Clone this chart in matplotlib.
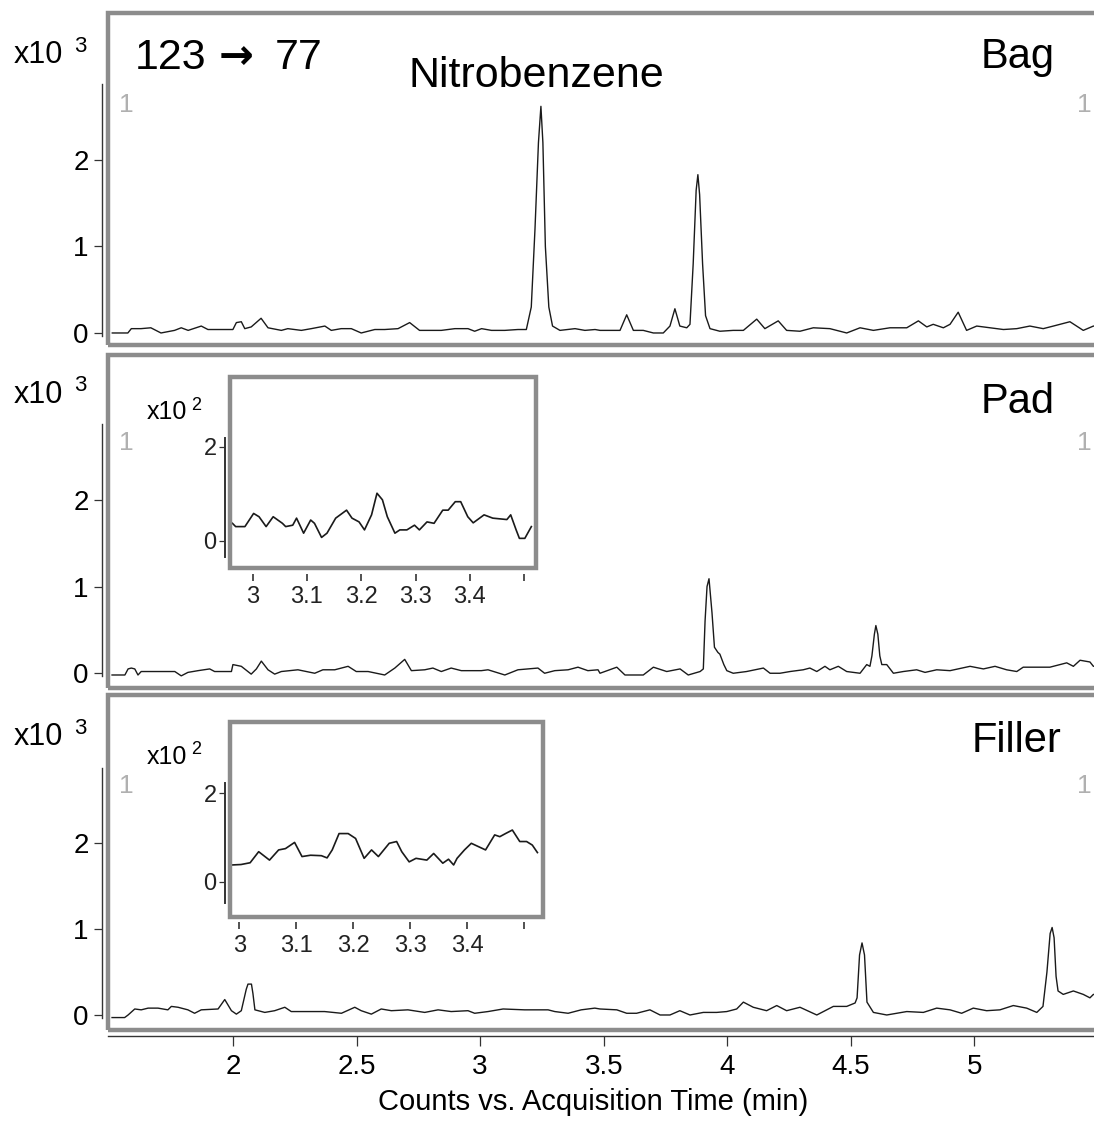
import matplotlib.pyplot as plt

plt.rcParams['font.family'] = ['Liberation Sans', 'DejaVu Sans']

# ---- data: counts (x10^3) vs acquisition time (min) ----
bag_t = [1.512, 1.575, 1.589, 1.628, 1.668, 1.709, 1.764, 1.791, 1.819, 1.872,
         1.899, 1.953, 2.0, 2.014, 2.034, 2.048, 2.074, 2.114, 2.142, 2.196,
         2.222, 2.277, 2.317, 2.372, 2.398, 2.438, 2.479, 2.519, 2.574, 2.614,
         2.668, 2.715, 2.755, 2.843, 2.898, 2.951, 2.978, 3.006, 3.046, 3.1,
         3.153, 3.187, 3.207, 3.222, 3.236, 3.246, 3.254, 3.264, 3.278, 3.293,
         3.323, 3.384, 3.424, 3.465, 3.485, 3.566, 3.593, 3.62, 3.66, 3.701,
         3.741, 3.768, 3.788, 3.808, 3.836, 3.849, 3.862, 3.874, 3.881, 3.888,
         3.9, 3.912, 3.93, 3.97, 4.024, 4.065, 4.119, 4.152, 4.206, 4.24,
         4.294, 4.348, 4.415, 4.483, 4.537, 4.591, 4.658, 4.726, 4.773, 4.807,
         4.833, 4.874, 4.901, 4.934, 4.968, 5.009, 5.063, 5.117, 5.171, 5.224,
         5.278, 5.319, 5.386, 5.44, 5.481, 5.59]
bag_y = [0.0, 0.0, 0.05, 0.05, 0.06, 0.0, 0.03, 0.06, 0.03, 0.08,
         0.04, 0.04, 0.04, 0.12, 0.13, 0.05, 0.07, 0.17, 0.06, 0.03,
         0.05, 0.03, 0.05, 0.08, 0.03, 0.05, 0.05, 0.0, 0.04, 0.04,
         0.05, 0.12, 0.03, 0.03, 0.05, 0.05, 0.02, 0.05, 0.03, 0.03,
         0.04, 0.04, 0.3, 1.2, 2.2, 2.62, 2.2, 1.0, 0.3, 0.08,
         0.03, 0.05, 0.03, 0.04, 0.03, 0.03, 0.21, 0.03, 0.03, 0.0,
         0.0, 0.08, 0.28, 0.08, 0.06, 0.1, 0.8, 1.65, 1.83, 1.6,
         0.8, 0.2, 0.05, 0.02, 0.03, 0.03, 0.16, 0.05, 0.14, 0.03,
         0.02, 0.06, 0.05, 0.0, 0.06, 0.03, 0.06, 0.06, 0.14, 0.07,
         0.1, 0.06, 0.1, 0.24, 0.03, 0.08, 0.06, 0.04, 0.05, 0.08,
         0.05, 0.08, 0.13, 0.03, 0.08, 0.05]

pad_t = [1.511, 1.563, 1.576, 1.589, 1.603, 1.616, 1.629, 1.765, 1.791, 1.818,
         1.859, 1.906, 1.926, 1.994, 2.0, 2.034, 2.074, 2.095, 2.115, 2.142,
         2.169, 2.196, 2.263, 2.331, 2.364, 2.412, 2.466, 2.499, 2.547, 2.614,
         2.655, 2.695, 2.722, 2.776, 2.809, 2.843, 2.883, 2.924, 3.005, 3.032,
         3.1, 3.153, 3.234, 3.261, 3.302, 3.356, 3.396, 3.436, 3.477, 3.485,
         3.553, 3.586, 3.66, 3.701, 3.755, 3.809, 3.842, 3.89, 3.903, 3.91,
         3.918, 3.926, 3.938, 3.948, 3.962, 3.97, 3.986, 3.998, 4.024, 4.078,
         4.146, 4.173, 4.213, 4.254, 4.307, 4.334, 4.362, 4.395, 4.415, 4.449,
         4.483, 4.537, 4.564, 4.577, 4.585, 4.595, 4.601, 4.609, 4.617, 4.625,
         4.645, 4.672, 4.712, 4.766, 4.8, 4.847, 4.901, 4.982, 5.036, 5.083,
         5.13, 5.171, 5.197, 5.305, 5.373, 5.4, 5.427, 5.467, 5.481, 5.59]
pad_y = [-0.02, -0.02, 0.05, 0.06, 0.05, -0.02, 0.02, 0.02, -0.03, 0.01,
         0.03, 0.05, 0.02, 0.02, 0.1, 0.08, -0.01, 0.05, 0.14, 0.04,
         -0.01, 0.02, 0.04, 0.0, 0.04, 0.04, 0.08, 0.02, 0.02, -0.02,
         0.06, 0.16, 0.03, 0.04, 0.06, 0.02, 0.06, 0.03, 0.03, 0.04,
         -0.02, 0.04, 0.06, 0.0, 0.03, 0.04, 0.07, 0.03, 0.04, 0.0,
         0.07, -0.02, -0.02, 0.07, 0.02, 0.05, -0.02, 0.02, 0.05, 0.6,
         1.0, 1.09, 0.7, 0.3, 0.24, 0.22, 0.1, 0.03, 0.0, 0.02,
         0.06, 0.0, 0.0, 0.02, 0.04, 0.06, 0.02, 0.08, 0.04, 0.08,
         0.02, 0.0, 0.1, 0.08, 0.2, 0.45, 0.55, 0.45, 0.2, 0.1,
         0.1, 0.0, 0.02, 0.04, 0.01, 0.04, 0.03, 0.08, 0.05, 0.08,
         0.04, 0.02, 0.07, 0.07, 0.12, 0.08, 0.15, 0.13, 0.08, 0.1]

filler_t = [1.511, 1.562, 1.576, 1.603, 1.629, 1.657, 1.697, 1.737, 1.751, 1.778,
            1.818, 1.845, 1.872, 1.94, 1.967, 1.994, 2.014, 2.034, 2.054, 2.061,
            2.075, 2.081, 2.089, 2.129, 2.169, 2.21, 2.236, 2.331, 2.371, 2.439,
            2.493, 2.519, 2.56, 2.6, 2.641, 2.708, 2.776, 2.83, 2.883, 2.951,
            2.978, 3.032, 3.093, 3.18, 3.275, 3.302, 3.356, 3.409, 3.464, 3.485,
            3.553, 3.593, 3.633, 3.687, 3.728, 3.768, 3.808, 3.849, 3.903, 3.957,
            3.998, 4.038, 4.065, 4.105, 4.159, 4.2, 4.24, 4.294, 4.362, 4.429,
            4.483, 4.517, 4.525, 4.535, 4.545, 4.555, 4.565, 4.591, 4.645, 4.726,
            4.793, 4.847, 4.901, 4.948, 4.995, 5.049, 5.103, 5.157, 5.211, 5.252,
            5.277, 5.293, 5.306, 5.314, 5.322, 5.33, 5.338, 5.359, 5.4, 5.44,
            5.467, 5.481, 5.59]
filler_y = [-0.03, -0.03, 0.0, 0.07, 0.06, 0.08, 0.08, 0.06, 0.1, 0.09,
            0.06, 0.02, 0.06, 0.07, 0.18, 0.05, 0.01, 0.05, 0.3, 0.36,
            0.36, 0.25, 0.06, 0.03, 0.05, 0.09, 0.04, 0.04, 0.04, 0.02,
            0.09, 0.05, 0.01, 0.07, 0.05, 0.06, 0.03, 0.06, 0.04, 0.05,
            0.02, 0.04, 0.07, 0.06, 0.06, 0.04, 0.02, 0.06, 0.08, 0.07,
            0.06, 0.02, 0.02, 0.06, 0.0, 0.0, 0.05, 0.0, 0.03, 0.03,
            0.04, 0.07, 0.15, 0.09, 0.05, 0.11, 0.05, 0.09, 0.0, 0.1,
            0.1, 0.14, 0.2, 0.7, 0.84, 0.7, 0.15, 0.03, 0.0, 0.04,
            0.03, 0.08, 0.06, 0.02, 0.08, 0.05, 0.06, 0.11, 0.08, 0.03,
            0.1, 0.5, 0.95, 1.02, 0.9, 0.45, 0.28, 0.24, 0.28, 0.24,
            0.2, 0.24, 0.22]

# zoomed insets: counts (x10^2) vs time (min)
pad_in_t = [2.963, 2.969, 2.986, 3.002, 3.012, 3.025, 3.038, 3.055, 3.061, 3.074,
            3.081, 3.094, 3.107, 3.114, 3.127, 3.137, 3.153, 3.173, 3.183, 3.196,
            3.206, 3.219, 3.229, 3.239, 3.248, 3.262, 3.271, 3.284, 3.298, 3.307,
            3.321, 3.334, 3.35, 3.36, 3.373, 3.383, 3.396, 3.406, 3.426, 3.442,
            3.468, 3.475, 3.485, 3.491, 3.501, 3.513]
pad_in_y = [0.37, 0.30, 0.30, 0.58, 0.51, 0.30, 0.51, 0.37, 0.30, 0.33,
            0.48, 0.16, 0.44, 0.37, 0.07, 0.16, 0.48, 0.65, 0.48, 0.40,
            0.23, 0.55, 1.01, 0.87, 0.51, 0.16, 0.23, 0.23, 0.33, 0.23,
            0.40, 0.37, 0.65, 0.65, 0.83, 0.83, 0.51, 0.38, 0.55, 0.48,
            0.45, 0.55, 0.23, 0.05, 0.05, 0.30]

filler_in_t = [2.987, 3.003, 3.019, 3.034, 3.053, 3.069, 3.081, 3.097, 3.11, 3.125,
               3.144, 3.154, 3.163, 3.175, 3.191, 3.204, 3.219, 3.232, 3.244, 3.263,
               3.276, 3.285, 3.298, 3.31, 3.329, 3.341, 3.357, 3.367, 3.376, 3.382,
               3.395, 3.407, 3.432, 3.448, 3.457, 3.467, 3.479, 3.492, 3.504, 3.514,
               3.523]
filler_in_y = [0.38, 0.39, 0.43, 0.68, 0.49, 0.72, 0.75, 0.89, 0.57, 0.60,
               0.59, 0.54, 0.72, 1.09, 1.09, 0.98, 0.53, 0.72, 0.57, 0.87,
               0.91, 0.68, 0.45, 0.53, 0.49, 0.64, 0.42, 0.51, 0.38, 0.53,
               0.72, 0.87, 0.72, 1.06, 1.02, 1.09, 1.17, 0.91, 0.91, 0.83,
               0.66]

panel_names = ['Bag', 'Pad', 'Filler']
main_ticks = [0, 1, 2]
x_ticks = [2, 2.5, 3, 3.5, 4, 4.5, 5]
x_ticklabels = ['2', '2.5', '3', '3.5', '4', '4.5', '5']
inset_ticks = [3, 3.1, 3.2, 3.3, 3.4, 3.5]
inset_ticklabels = ['3', '3.1', '3.2', '3.3', '3.4', '']

W, H = 1094, 1123
fig = plt.figure(figsize=(W / 100, H / 100), dpi=100)
GRAY = '#8c8c8c'
DARK = '#333333'


def fx(px):
    return px / W


def fy(py):
    return 1 - py / H


def frame(ax, lw=3.2):
    ax.add_patch(plt.Rectangle((0, 0), 1, 1, transform=ax.transAxes, fill=False,
                               edgecolor=GRAY, lw=lw, clip_on=False, zorder=5))
    for s in ax.spines.values():
        s.set_visible(False)


# panel geometry: top/bottom of box in px and y limits
boxes = [(13, 345, -0.139, 3.699), (355, 688, -0.17, 3.67), (695, 1030, -0.175, 3.73)]
traces = [(bag_t, bag_y), (pad_t, pad_y), (filler_t, filler_y)]
label_px = [(981, 68), (981, 413), (972, 752)]
x10_py = [55, 395, 737]
one_py = [105, 443, 786]

for i in range(3):
    top, bot, y0, y1 = boxes[i]
    ax = fig.add_axes([fx(108), fy(bot), fx(1120) - fx(108), (bot - top) / H])
    ax.plot(traces[i][0], traces[i][1], color='#1a1a1a', lw=1.0)
    ax.set_xlim(1.4947, 5.5886)
    ax.set_ylim(y0, y1)
    frame(ax)
    ax.spines['left'].set_visible(True)
    ax.spines['left'].set_position(('outward', 4))
    ax.spines['left'].set_bounds(-0.03, 2.88)
    ax.spines['left'].set_color(DARK)
    ax.spines['left'].set_linewidth(1.0)
    ax.set_yticks(main_ticks)
    ax.tick_params(axis='y', direction='out', length=6, width=0.9, color=DARK,
                   labelsize=20, pad=4)
    if i == 2:
        ax.spines['bottom'].set_visible(True)
        ax.spines['bottom'].set_position(('outward', 4))
        ax.spines['bottom'].set_color(DARK)
        ax.spines['bottom'].set_linewidth(1.0)
        ax.set_xticks(x_ticks, labels=x_ticklabels)
        ax.tick_params(axis='x', direction='out', length=7, width=0.9, color=DARK,
                       labelsize=20, pad=6)
    else:
        ax.set_xticks([])

    fig.text(fx(label_px[i][0]), fy(label_px[i][1]), panel_names[i], fontsize=30,
             ha='left', va='baseline')
    fig.text(fx(14), fy(x10_py[i]), 'x10', fontsize=22, ha='left', va='center')
    fig.text(fx(74), fy(x10_py[i] - 9), '3', fontsize=16, ha='left', va='center')
    fig.text(fx(119), fy(one_py[i]), '1', fontsize=19, color='#b0b0b0',
             ha='left', va='center')
    fig.text(fx(1077), fy(one_py[i]), '1', fontsize=19, color='#b0b0b0',
             ha='left', va='center')

fig.text(fx(135), fy(69), '123', fontsize=31, ha='left', va='baseline')
fig.text(fx(219), fy(69), '\u2192', fontsize=30, ha='left', va='baseline',
         family=['DejaVu Sans'], fontweight='bold')
fig.text(fx(275), fy(69), '77', fontsize=31, ha='left', va='baseline')
fig.text(fx(409), fy(87), 'Nitrobenzene', fontsize=31, ha='left', va='baseline')
fig.text(fx(593), fy(1102), 'Counts vs. Acquisition Time (min)', fontsize=21,
         ha='center', va='center')

# insets: box px (left, right, top, bottom), xlim, ylim, spine bounds, x10 label pos
insets = [
    ((230.4, 535.7, 376.7, 568.3), (2.9593, 3.521), (-0.587, 3.489), (-0.34, 2.18),
     (pad_in_t, pad_in_y), 412),
    ((230.4, 542.9, 721.7, 916.7), (2.9844, 3.5326), (-0.79, 3.62), (-0.49, 2.23),
     (filler_in_t, filler_in_y), 757),
]
for (l, r, t, b), xl, yl, sb, (xs, ys), lab_y in insets:
    ia = fig.add_axes([fx(l), fy(b), (r - l) / W, (b - t) / H])
    ia.plot(xs, ys, color='#1a1a1a', lw=1.2)
    ia.set_xlim(*xl)
    ia.set_ylim(*yl)
    frame(ia, lw=3.2)
    ia.spines['left'].set_visible(True)
    ia.spines['left'].set_position(('outward', 4))
    ia.spines['left'].set_bounds(*sb)
    ia.spines['left'].set_color(DARK)
    ia.spines['left'].set_linewidth(1.4)
    ia.spines['bottom'].set_position(('outward', 4))
    ia.set_yticks([0, 2])
    ia.set_xticks(inset_ticks, labels=inset_ticklabels)
    ia.tick_params(axis='y', direction='out', length=4, width=0.9, color=DARK,
                   labelsize=17, pad=2, labelcolor='#222222')
    ia.tick_params(axis='x', direction='out', length=5, width=1.2, color=DARK,
                   labelsize=17, pad=4, labelcolor='#222222')
    fig.text(fx(147), fy(lab_y), 'x10', fontsize=18, ha='left', va='center')
    fig.text(fx(191), fy(lab_y - 7), '2', fontsize=13, ha='left', va='center')

fig.savefig('out.png', dpi=100)
